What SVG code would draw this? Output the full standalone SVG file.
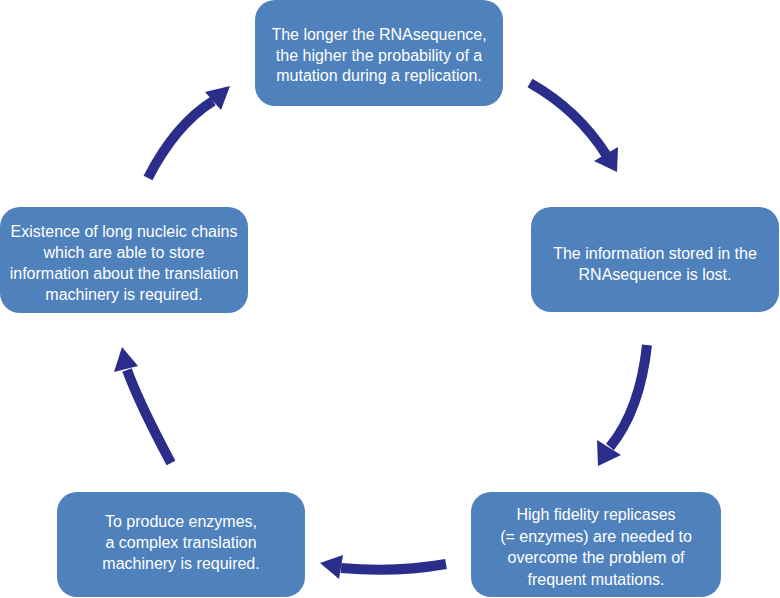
<svg xmlns="http://www.w3.org/2000/svg" width="780" height="598" viewBox="0 0 780 598">
<style>
.box{fill:#4F81BD;}
.t{font-family:"Liberation Sans",Arial,sans-serif;font-size:16px;fill:#ffffff;text-anchor:middle;}
.shaft{fill:none;stroke:#2B2D8A;stroke-width:10;}
.head{fill:#2B2D8A;}
</style>
<rect width="780" height="598" fill="#ffffff"/>
<g id="node-top">
<rect class="box" x="255" y="0" width="248" height="106" rx="20"/>
<text class="t" x="379" y="40">The longer the RNAsequence,</text>
<text class="t" x="379" y="61">the higher the probability of a</text>
<text class="t" x="379" y="81">mutation during a replication.</text>
</g>
<g id="node-right">
<rect class="box" x="531" y="207" width="248" height="105" rx="20"/>
<text class="t" x="655" y="259">The information stored in the</text>
<text class="t" x="655" y="280">RNAsequence is lost.</text>
</g>
<g id="node-bottom-right">
<rect class="box" x="471" y="492" width="250" height="105" rx="20"/>
<text class="t" x="596" y="520">High fidelity replicases</text>
<text class="t" x="596" y="541.5">(= enzymes) are needed to</text>
<text class="t" x="596" y="563">overcome the problem of</text>
<text class="t" x="596" y="584.5">frequent mutations.</text>
</g>
<g id="node-bottom-left">
<rect class="box" x="57" y="492" width="248" height="105" rx="20"/>
<text class="t" x="181" y="527">To produce enzymes,</text>
<text class="t" x="181" y="548">a complex translation</text>
<text class="t" x="181" y="569">machinery is required.</text>
</g>
<g id="node-left">
<rect class="box" x="0" y="207" width="248" height="106" rx="20"/>
<text class="t" x="124" y="237">Existence of long nucleic chains</text>
<text class="t" x="124" y="258">which are able to store</text>
<text class="t" x="124" y="279">information about the translation</text>
<text class="t" x="124" y="299.5">machinery is required.</text>
</g>
<g id="connectors">
<path class="shaft" d="M530,83 Q578,110 607,156"/>
<polygon class="head" points="594,161 618,147 617,172"/>
<path class="shaft" d="M647,345 Q640,410 610,447"/>
<polygon class="head" points="597,440 621,455 598,466"/>
<path class="shaft" d="M446,564 Q395,573 341,568"/>
<polygon class="head" points="343,555 339,579 320,563"/>
<path class="shaft" d="M171,463 Q140,405 127,370"/>
<polygon class="head" points="114,372 138,366 122,347"/>
<path class="shaft" d="M148,178 Q175,125 213,101"/>
<polygon class="head" points="205,92 221,110 230,86"/>
</g>
</svg>
